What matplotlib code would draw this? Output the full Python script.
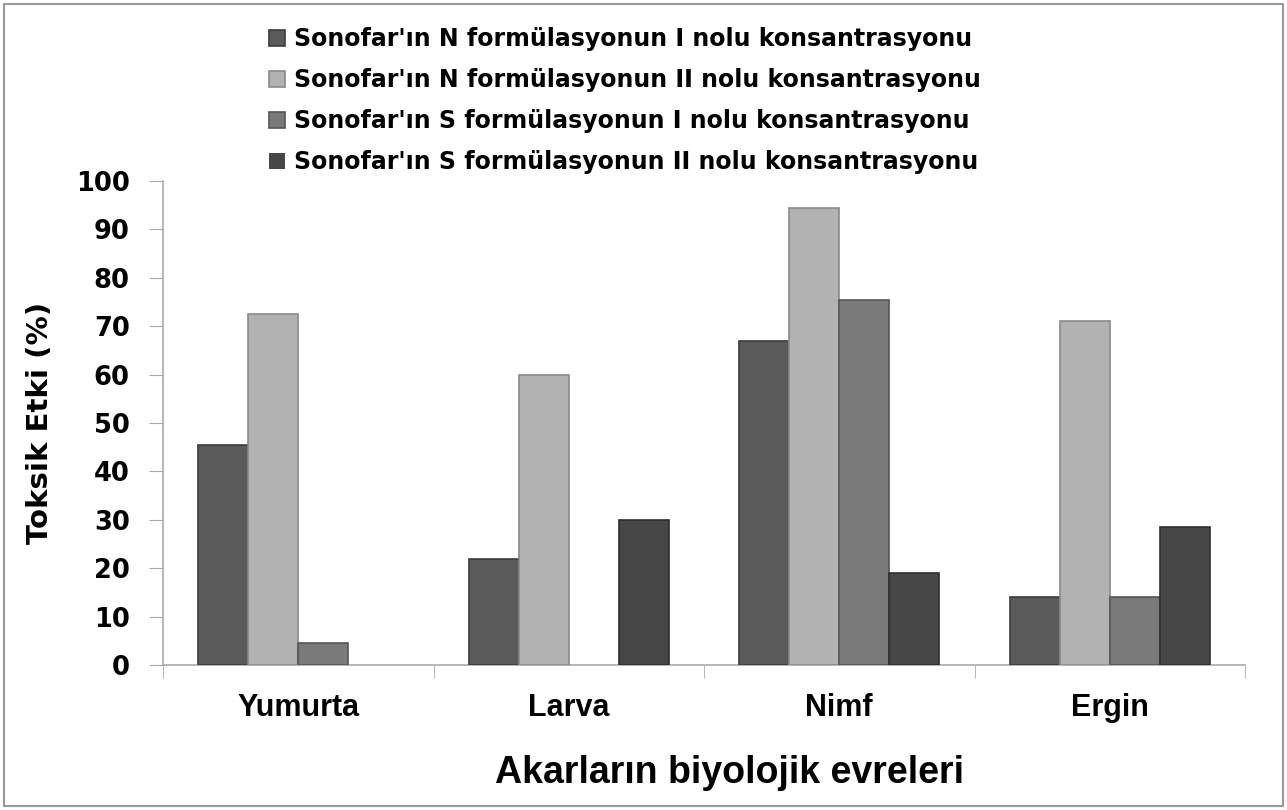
import numpy as np
import matplotlib.pyplot as plt
from matplotlib.patches import Rectangle

evreler = ['Yumurta', 'Larva', 'Nimf', 'Ergin']
seriler = ["Sonofar'ın N formülasyonun I nolu konsantrasyonu",
           "Sonofar'ın N formülasyonun II nolu konsantrasyonu",
           "Sonofar'ın S formülasyonun I nolu konsantrasyonu",
           "Sonofar'ın S formülasyonun II nolu konsantrasyonu"]
n_I = [45.5, 22, 67, 14]
n_II = [72.5, 60, 94.5, 71]
s_I = [4.5, 0, 75.5, 14]
s_II = [0, 30, 19, 28.5]
renkler = ['#5a5a5a', '#b2b2b2', '#7a7a7a', '#474747']
kenarlar = ['#3c3c3c', '#8a8a8a', '#555555', '#2e2e2e']

fig = plt.figure(figsize=(12.87, 8.10), dpi=100)
ax = fig.add_axes([163/1287, 1-665/810, (1245-163)/1287, (665-181)/810])

x = np.arange(len(evreler)) + 0.5
w = 0.185
for i, vals in enumerate([n_I, n_II, s_I, s_II]):
    lw = [1.2 if v > 0 else 0 for v in vals]
    ax.bar(x + (i - 1.5) * w, vals, w, color=renkler[i], edgecolor=kenarlar[i],
           linewidth=lw, label=seriler[i], zorder=3)

ax.set_xlim(0, 4)
ax.set_ylim(0, 100)
ax.set_yticks(range(0, 101, 10))
ax.set_xticks(x)
ax.set_xticklabels(evreler, fontsize=22, fontweight='bold', family='Liberation Sans')
ax.set_xticks(np.arange(5), minor=True)
ax.tick_params(axis='x', which='major', length=0, pad=20)
ax.tick_params(axis='x', which='minor', length=9, color='#aaaaaa', direction='out')
ax.tick_params(axis='y', length=10, color='#aaaaaa', pad=14, labelsize=18.5)
for lab in ax.get_yticklabels():
    lab.set_fontweight('bold')

for s in ['top', 'right']:
    ax.spines[s].set_visible(False)
for s in ['left', 'bottom']:
    ax.spines[s].set_color('#aaaaaa')
    ax.spines[s].set_linewidth(1.2)

ax.set_ylabel('Toksik Etki (%)', fontsize=21, fontweight='bold', labelpad=16)
ax.set_xlabel('Akarların biyolojik evreleri', fontsize=27, fontweight='bold',
              family='Liberation Sans', labelpad=22)
ax.xaxis.set_label_coords(0.524, -0.185)

fig.legend(loc='upper left', bbox_to_anchor=(248/1287, 1-6/810), frameon=False,
           prop={'weight': 'bold', 'size': 17}, handlelength=0.65, handleheight=0.65,
           handletextpad=0.4, labelspacing=0.72)

fig.patches.append(Rectangle((4/1287, 4/810), 1-8/1287, 1-8/810, transform=fig.transFigure,
                             fill=False, edgecolor='#999999', linewidth=1.5))

fig.savefig('out.png', dpi=100)
